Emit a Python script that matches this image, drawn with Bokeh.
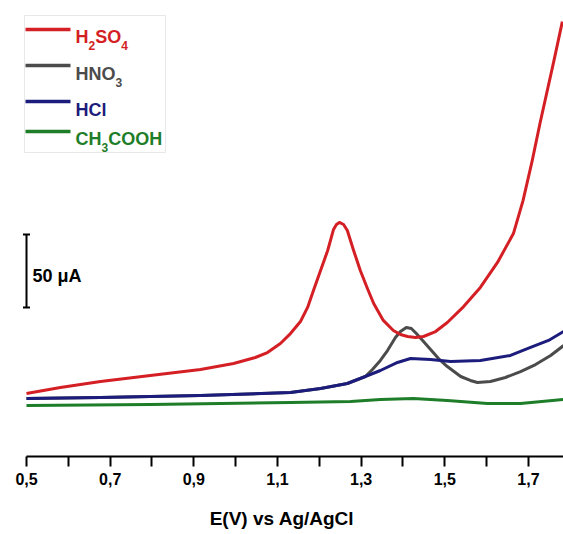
from bokeh.plotting import figure
from bokeh.models import Range1d, FixedTicker, Label, BoxAnnotation
from bokeh.embed import file_html
from bokeh.resources import INLINE

# ---------------- data ----------------
h2so4_E = [0.500, 0.581, 0.677, 0.796, 0.916, 0.995, 1.047, 1.076, 1.107, 1.131,
           1.155, 1.172, 1.186, 1.203, 1.220, 1.234, 1.241, 1.248, 1.258, 1.267,
           1.282, 1.298, 1.315, 1.330, 1.353, 1.377, 1.394, 1.411, 1.430, 1.449,
           1.478, 1.506, 1.545, 1.585, 1.626, 1.664, 1.687, 1.709, 1.728, 1.760, 1.781]
h2so4_I = [43.2, 47.3, 51.4, 55.5, 59.6, 63.7, 67.8, 71.2, 77.4, 84.2,
           92.5, 102.1, 113.7, 127.4, 141.1, 155.5, 158.9, 160.3, 158.9, 154.8,
           141.1, 127.4, 115.1, 104.8, 93.2, 86.3, 83.6, 82.2, 81.5, 82.2,
           85.6, 91.8, 102.7, 115.8, 132.9, 152.7, 175.3, 202.7, 228.8, 269.9, 297.9]

hno3_E = [0.500, 0.677, 0.916, 1.131, 1.203, 1.267, 1.310, 1.327, 1.346, 1.363,
          1.382, 1.394, 1.408, 1.420, 1.432, 1.447, 1.466, 1.485, 1.506, 1.538,
          1.561, 1.578, 1.609, 1.645, 1.681, 1.717, 1.753, 1.784]
hno3_I = [39.7, 40.4, 41.8, 43.8, 46.6, 50.0, 54.8, 59.6, 65.8, 72.6,
          81.5, 85.6, 88.4, 87.7, 84.2, 79.5, 73.3, 67.1, 61.6, 54.8,
          52.1, 50.7, 51.4, 54.1, 58.2, 63.0, 69.2, 76.0]

hcl_E = [0.500, 0.677, 0.916, 1.131, 1.203, 1.267, 1.310, 1.346, 1.387, 1.418,
         1.466, 1.514, 1.585, 1.657, 1.705, 1.748, 1.784]
hcl_I = [39.7, 40.4, 41.8, 43.8, 46.6, 50.0, 54.8, 58.9, 64.4, 67.1,
         66.4, 65.1, 65.8, 69.2, 74.7, 79.5, 85.6]

ch3cooh_E = [0.500, 0.796, 1.131, 1.275, 1.346, 1.425, 1.506, 1.602, 1.681, 1.784]
ch3cooh_I = [34.9, 35.6, 37.0, 37.7, 39.0, 39.7, 38.4, 36.3, 36.3, 39.0]

tick_values = [0.5, 0.7, 0.9, 1.1, 1.3, 1.5, 1.7]
tick_labels = ["0,5", "0,7", "0,9", "1,1", "1,3", "1,5", "1,7"]
minor_values = [0.6, 0.8, 1.0, 1.2, 1.4, 1.6]
scale_bar_uA = 50
x_label = "E(V) vs Ag/AgCl"

# legend entries: pieces of (text, is_subscript)
legend_entries = [
    [("H", 0), ("2", 1), ("SO", 0), ("4", 1)],
    [("HNO", 0), ("3", 1)],
    [("HCl", 0)],
    [("CH", 0), ("3", 1), ("COOH", 0)],
]

# ---------------- style ----------------
RED = "#d41f25"
GRAY = "#4b4b4b"
BLUE = "#1c1c7c"
GREEN = "#1e7d28"
colors = [RED, GRAY, BLUE, GREEN]
FONT = "Liberation Sans"

W, H = 563, 534
FRAME_H = 456
PX_PER_V = 418.3
X0_PX = 26
PX_PER_UA = 1.46

x_start = 0.5 - X0_PX / PX_PER_V
x_end = 0.5 + (W - X0_PX) / PX_PER_V


def X(px):
    return 0.5 + (px - X0_PX) / PX_PER_V


def Y(py):
    return (FRAME_H - py) / PX_PER_UA


# Arial/Liberation Sans Bold advance widths (em) for the legend letters
ADV = {"H": 0.722, "S": 0.667, "O": 0.778, "N": 0.722, "C": 0.722, "l": 0.278,
       "2": 0.556, "3": 0.556, "4": 0.556}

p = figure(width=W, height=H, output_backend="svg", toolbar_location=None,
           x_range=Range1d(x_start, x_end), y_range=Range1d(0, FRAME_H / PX_PER_UA),
           y_axis_location=None, min_border_left=0, min_border_right=0,
           min_border_top=0, min_border_bottom=H - FRAME_H)
p.outline_line_color = None
p.xgrid.visible = False
p.ygrid.visible = False
p.background_fill_color = "white"
p.border_fill_color = "white"

ax = p.xaxis[0]
ax.bounds = (0.5, x_end)
ax.ticker = FixedTicker(ticks=tick_values, minor_ticks=minor_values)
ax.major_label_overrides = {v: s for v, s in zip(tick_values, tick_labels)}
ax.axis_line_width = 2
ax.axis_line_color = "black"
ax.major_tick_line_width = 2
ax.minor_tick_line_width = 2
ax.major_tick_line_color = "black"
ax.minor_tick_line_color = "black"
ax.major_tick_out = 10
ax.minor_tick_out = 10
ax.major_tick_in = 0
ax.minor_tick_in = 0
ax.major_label_text_font = FONT
ax.major_label_text_font_style = "bold"
ax.major_label_text_font_size = "16px"
ax.major_label_text_color = "black"
ax.major_label_standoff = 6
ax.axis_label = x_label
ax.axis_label_text_font = FONT
ax.axis_label_text_font_style = "bold"
ax.axis_label_text_font_size = "19px"
ax.axis_label_text_color = "black"
ax.axis_label_standoff = 20

# ---------------- curves ----------------
p.line(ch3cooh_E, ch3cooh_I, line_color=GREEN, line_width=3, line_join="round")
p.line(hno3_E, hno3_I, line_color=GRAY, line_width=3, line_join="round")
p.line(hcl_E, hcl_I, line_color=BLUE, line_width=3, line_join="round")
p.line(h2so4_E, h2so4_I, line_color=RED, line_width=3, line_join="round")

# ---------------- legend (drawn by hand for subscripts) ----------------
p.add_layout(BoxAnnotation(left=X(24), right=X(165), top=Y(15), bottom=Y(152),
                           fill_color="white", fill_alpha=1.0, level="underlay",
                           line_color="#b4b4b4", line_width=1))

MAIN_PX, SUB_PX = 18, 12
line_rows = [29, 65, 101, 131]
base_rows = [36, 73, 109, 138]
for color, ly, base, pieces in zip(colors, line_rows, base_rows, legend_entries):
    p.segment(x0=[X(25)], y0=[Y(ly)], x1=[X(70)], y1=[Y(ly)],
              line_color=color, line_width=3.5)
    cx = 75.0
    for txt, sub in pieces:
        size = SUB_PX if sub else MAIN_PX
        p.add_layout(Label(x=X(cx), y=Y(base + (9 if sub else 0)), text=txt,
                           text_font=FONT, text_font_style="bold",
                           text_font_size=f"{size}px",
                           text_color=color, text_baseline="alphabetic",
                           text_align="left"))
        cx += sum(ADV[c] for c in txt) * size

# ---------------- 50 µA scale bar ----------------
bar_top = Y(234)
bar_bot = bar_top - scale_bar_uA
p.segment(x0=[X(26)], y0=[bar_bot], x1=[X(26)], y1=[bar_top],
          line_color="black", line_width=2)
p.segment(x0=[X(22.5), X(22.5)], y0=[bar_top, bar_bot], x1=[X(29.5), X(29.5)],
          y1=[bar_top, bar_bot], line_color="black", line_width=2)
p.add_layout(Label(x=X(32), y=Y(275), text="50 \u03bcA", text_font=FONT,
                   text_font_style="bold", text_font_size="18px",
                   text_color="black", text_baseline="alphabetic"))

open("out.html", "w").write(file_html(p, INLINE))
